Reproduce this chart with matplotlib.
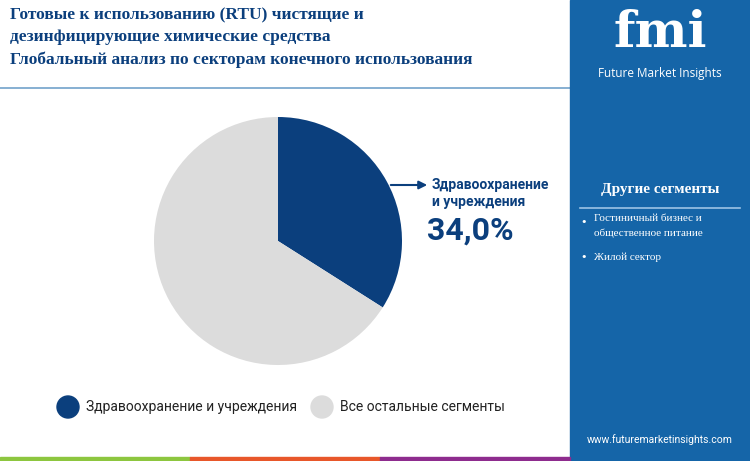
import matplotlib.pyplot as plt
import matplotlib.patches as mpatches

W, H = 750, 461
segments = ["Здравоохранение и учреждения", "Все остальные сегменты"]
shares = [34.0, 66.0]
colors = ["#0b3f7d", "#dcdcdc"]
other_segments = ["Гостиничный бизнес и\nобщественное питание", "Жилой сектор"]
title = ("Готовые к использованию (RTU) чистящие и\n"
         "дезинфицирующие химические средства\n"
         "Глобальный анализ по секторам конечного использования")

fig = plt.figure(figsize=(W / 100, H / 100), dpi=100)

def px(x, y):
    return x / W, 1 - y / H

# right panel
fig.patches.append(mpatches.Rectangle(px(570, 461), 180 / W, 1, transform=fig.transFigure,
                                      color="#1565a8", zorder=0))
# bottom colour bar
for x0, c in [(0, "#8dc63f"), (190, "#e8572a"), (380, "#8e2c8e")]:
    fig.patches.append(mpatches.Rectangle(px(x0, 461), 190 / W, 4 / H, transform=fig.transFigure,
                                          color=c, zorder=1))
# line under title
fig.add_artist(plt.Line2D([0, 570 / W], [1 - 88 / H] * 2, color="#1565a8", lw=1.2, alpha=0.6))

fig.text(*px(10, 7), title, ha="left", va="top", fontsize=12.5, fontweight="bold",
         family="Liberation Serif", color="#0b3f7d", linespacing=1.5)

# pie
ax = fig.add_axes([(278 - 124) / W, 1 - (241 + 124) / H, 248 / W, 248 / H])
ax.pie(shares, colors=colors, startangle=90, counterclock=False,
       wedgeprops=dict(linewidth=0))
ax.set_xlim(-1, 1)
ax.set_ylim(-1, 1)
ax.set_aspect("equal")

fig.add_artist(mpatches.FancyArrowPatch(px(388, 185), px(430, 185), transform=fig.transFigure,
                                        arrowstyle="-|>", mutation_scale=12, color="#0b3f7d", lw=1.5))
fig.text(*px(432, 178), "Здравоохранение\nи учреждения", ha="left", va="top", fontsize=10,
         fontweight="bold", family="Roboto", color="#0b3f7d", linespacing=1.3)
fig.text(*px(427, 216), f"{shares[0]:.1f}%".replace(".", ","), ha="left", va="top",
         fontsize=23, fontweight="bold", family="Roboto", color="#0b3f7d")

# legend
for (x, lbl, c) in [(68, segments[0], colors[0]), (322, segments[1], colors[1])]:
    fig.add_artist(mpatches.Ellipse(px(x, 407), 22 / W, 22 / H, transform=fig.transFigure, color=c))
    fig.text(*px(x + 18, 407), lbl, ha="left", va="center", fontsize=10, family="Roboto",
             color="#222222")

# logo
fig.text(*px(660, 33), "fmi", ha="center", va="center", fontsize=36, fontweight="bold",
         family="DejaVu Serif", color="white")
fig.text(*px(660, 74), "Future Market Insights", ha="center", va="center", fontsize=8.5,
         color="white", family="Open Sans")

fig.text(*px(660, 190), "Другие сегменты", ha="center", va="center", fontsize=11,
         fontweight="bold", family="Liberation Serif", color="white")
fig.add_artist(plt.Line2D([580 / W, 740 / W], [1 - 208 / H] * 2, color="#9cc3e6", lw=1.2))
fig.text(*px(580, 222), "•", ha="left", va="center", fontsize=8, color="white")
fig.text(*px(594, 214), other_segments[0], ha="left", va="top", fontsize=8,
         family="Liberation Serif", color="white", linespacing=1.8)
fig.text(*px(580, 257), "•", ha="left", va="center", fontsize=8, color="white")
fig.text(*px(594, 257), other_segments[1], ha="left", va="center", fontsize=8,
         family="Liberation Serif", color="white")

fig.text(*px(660, 440), "www.futuremarketinsights.com", ha="center", va="center", fontsize=7.5,
         family="Roboto", color="white")

fig.savefig("out.png", dpi=100)
